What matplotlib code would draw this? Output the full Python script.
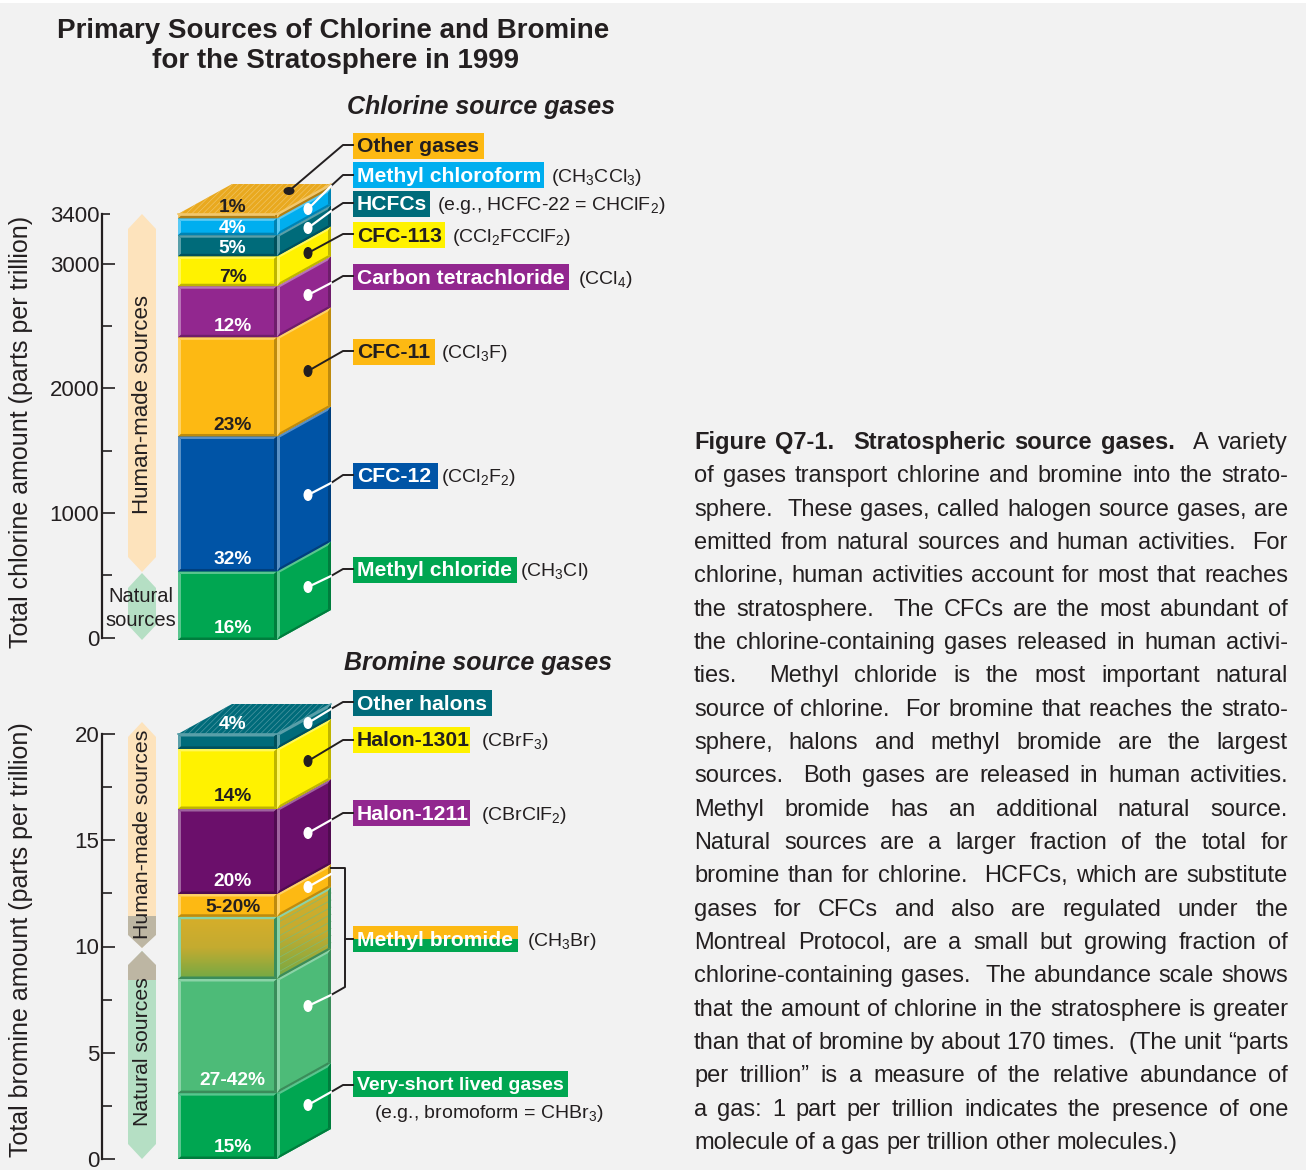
import numpy as np
import matplotlib
matplotlib.use("Agg")
import matplotlib.pyplot as plt
from matplotlib.collections import PolyCollection
from matplotlib.colors import to_rgb, LinearSegmentedColormap
from matplotlib.patches import Ellipse, Polygon, Rectangle

FIG_W, FIG_H = 1309, 1173
INK = "#231F20"

plt.rcParams["font.family"] = ["Liberation Sans", "DejaVu Sans"]
plt.rcParams["mathtext.fontset"] = "custom"
plt.rcParams["mathtext.rm"] = "Liberation Sans"
plt.rcParams["mathtext.default"] = "regular"
plt.rcParams["hatch.linewidth"] = 0.5

chlorine_total = 3400
chlorine_names = ["Methyl chloride", "CFC-12", "CFC-11", "Carbon tetrachloride",
                  "CFC-113", "HCFCs", "Methyl chloroform", "Other gases"]
chlorine_amounts = [550, 1084, 796, 410, 240, 170, 135, 35]
chlorine_base = -20
chlorine_pct_labels = ["16%", "32%", "23%", "12%", "7%", "5%", "4%", "1%"]
chlorine_ticks = [0, 1000, 2000, 3000, 3400]
chlorine_minor = [500, 1500, 2500]

bromine_total = 20
bromine_names = ["Very-short lived gases", "Methyl bromide natural", "Methyl bromide mixed",
                 "Methyl bromide human", "Halon-1211", "Halon-1301", "Other halons"]
bromine_amounts = [3.1, 5.37, 2.93, 1.07, 4.0, 2.83, 0.7]
bromine_base = 0
bromine_pct_labels = ["15%", "27-42%", "", "5-20%", "20%", "14%", "4%"]
bromine_ticks = [0, 5, 10, 15, 20]
bromine_minor = [2.5, 7.5, 12.5, 17.5]

chlorine_colors = ["#00A651", "#0054A6", "#FDB913", "#92278F",
                   "#FFF200", "#006B7A", "#00AEEF", "#E9A91F"]
bromine_colors = ["#00A651", "#4DBB78", "#A9AC3A", "#FDB913",
                  "#6B0F6B", "#FFF200", "#006B7A"]

paragraph = [
    "Figure Q7-1.  Stratospheric source gases.  A variety",
    "of gases transport chlorine and bromine into the strato-",
    "sphere.  These gases, called halogen source gases, are",
    "emitted from natural sources and human activities.  For",
    "chlorine, human activities account for most that reaches",
    "the stratosphere.  The CFCs are the most abundant of",
    "the chlorine-containing gases released in human activi-",
    "ties.  Methyl chloride is the most important natural",
    "source of chlorine.  For bromine that reaches the strato-",
    "sphere, halons and methyl bromide are the largest",
    "sources.  Both gases are released in human activities.",
    "Methyl bromide has an additional natural source.",
    "Natural sources are a larger fraction of the total for",
    "bromine than for chlorine.  HCFCs, which are substitute",
    "gases for CFCs and also are regulated under the",
    "Montreal Protocol, are a small but growing fraction of",
    "chlorine-containing gases.  The abundance scale shows",
    "that the amount of chlorine in the stratosphere is greater",
    "than that of bromine by about 170 times.  (The unit \u201cparts",
    "per trillion\u201d is a measure of the relative abundance of",
    "a gas: 1 part per trillion indicates the presence of one",
    "molecule of a gas per trillion other molecules.)",
]

# name, box right edge, centre y, fill, text colour, formula, formula x
chlorine_boxes = [
    ("Other gases", 484, 146, "#FDB913", INK, "", 0),
    ("Methyl chloroform", 544, 175, "#00AEEF", "white", "(CH$_3$CCl$_3$)", 551),
    ("HCFCs", 430, 204, "#006B7A", "white", "(e.g., HCFC-22 = CHClF$_2$)", 437),
    ("CFC-113", 445, 235, "#FFF200", INK, "(CCl$_2$FCClF$_2$)", 452),
    ("Carbon tetrachloride", 569, 277, "#92278F", "white", "(CCl$_4$)", 578),
    ("CFC-11", 435, 352, "#FDB913", INK, "(CCl$_3$F)", 441),
    ("CFC-12", 438, 476, "#0054A6", "white", "(CCl$_2$F$_2$)", 441),
    ("Methyl chloride", 517, 570, "#00A651", "white", "(CH$_3$Cl)", 520),
]
bromine_boxes = [
    ("Other halons", 492, 703, "#006B7A", "white", "", 0),
    ("Halon-1301", 470, 740, "#FFF200", INK, "(CBrF$_3$)", 481),
    ("Halon-1211", 470, 813, "#92278F", "white", "(CBrClF$_2$)", 481),
    ("Very-short lived gases", 568, 1084, "#00A651", "white", "", 0),
]

# dot x, dot y, dot colour, elbow on the stack edge y, elbow y at the label
leaders = [
    (289, 191, INK, None, 145),
    (308, 209, "white", 186, 175),
    (308, 228, "white", 211, 203),
    (308, 253, INK, None, 234),
    (308, 295, "white", 283, 276),
    (308, 371, INK, None, 351),
    (308, 495, "white", 483, 475),
    (308, 587, "white", 576, 569),
    (308, 723, "white", 709, 702),
    (308, 761, INK, None, 740),
    (308, 833, "white", 820, 813),
    (308, 1105, "white", 1092, 1085),
]


def mix(color, other, amount):
    c = np.array(to_rgb(color))
    return tuple(c + (np.array(to_rgb(other)) - c) * amount)


def bevel(ax, corners, color, b_y, b=3.0):
    """Draw a four sided face with a lighter top/left and darker bottom/right rim."""
    bl, br, tr, tl = [np.array(c, dtype=float) for c in corners]
    u = (br - bl) * (b / (br[0] - bl[0]))
    v = np.array([0, b_y])
    ibl, ibr, itr, itl = bl + u + v, br - u + v, tr - u - v, tl + u - v
    light = mix(color, "white", 0.35)
    dark = mix(color, "black", 0.25)
    polys = [[tl, tr, itr, itl], [bl, tl, itl, ibl], [bl, br, ibr, ibl], [br, tr, itr, ibr]]
    ax.add_collection(PolyCollection(polys, facecolors=[light, light, dark, dark],
                                     edgecolors="none", clip_on=False, zorder=3))


def draw_stack(ax, amounts, base, total, colors, top_hatch, px, mixed=None):
    amounts = np.array(amounts, dtype=float)
    bottoms = base + np.concatenate([[0], np.cumsum(amounts)[:-1]])
    x0, x1, x2 = 178, 277, 331
    depth = 30 / px
    ax.bar(x0, amounts, width=x1 - x0, bottom=bottoms, align="edge", color=colors,
           clip_on=False, zorder=2)
    for i, (lo, amount, color) in enumerate(zip(bottoms, amounts, colors)):
        hi = lo + amount
        side = [(x1, lo), (x2, lo + depth), (x2, hi + depth), (x1, hi)]
        ax.add_patch(Polygon(side, fc=color, ec="none", clip_on=False, zorder=2))
        rim = "#4DBB78" if i == mixed else color
        if i == mixed:
            ramp = LinearSegmentedColormap.from_list("mb", ["#D6AE2A", "#C4AB30", "#73A944"])
            grad = np.linspace(0, 1, 64)[:, None]
            ax.imshow(grad, cmap=ramp, extent=(x0, x1, lo, hi), origin="upper", aspect="auto",
                      zorder=2.5, clip_on=False)
            im = ax.imshow(grad, cmap=ramp, extent=(x1, x2, lo, hi + depth), origin="upper",
                           aspect="auto", zorder=2.5)
            im.set_clip_path(Polygon(side, transform=ax.transData))
            for f in np.linspace(0.1, 0.9, 8):
                y = lo + f * amount
                ax.plot([x1, x2], [y, y + depth], color="#7FBB74", lw=0.5, zorder=2.7, clip_on=False)
        bevel(ax, [(x0, lo), (x1, lo), (x1, hi), (x0, hi)], rim, 2.5 / px)
        bevel(ax, side, rim, 2.5 / px)
    top = bottoms[-1] + amounts[-1]
    ax.add_patch(Polygon([(x0, top), (x1, top), (x2, top + depth), (x0 + 54, top + depth)],
                         fc=colors[-1], ec=mix(colors[-1], "white", 0.3), lw=0, hatch=top_hatch,
                         clip_on=False, zorder=2.8))
    ax.plot([x0, x1, x2], [top, top, top + depth], color=mix(colors[-1], "white", 0.35),
            lw=1.2, zorder=3, clip_on=False)
    ax.set_xlim(102, 340)
    ax.set_ylim(0, total)


def style_axis(ax, ticks, minor, label, label_y, top_px, bottom_px):
    ax.patch.set_visible(False)
    for name in ("top", "right", "bottom"):
        ax.spines[name].set_visible(False)
    ax.spines["left"].set_linewidth(1.6)
    ax.spines["left"].set_color(INK)
    ax.set_xticks([])
    ax.set_yticks(ticks)
    ax.set_yticks(minor, minor=True)
    ax.tick_params(axis="y", which="major", direction="in", length=9.5, width=1.2,
                   color=INK, labelcolor=INK, labelsize=16, pad=2)
    ax.tick_params(axis="y", which="minor", direction="in", length=7.5, width=1.2, color=INK)
    ax.set_ylabel(label, fontsize=18, color=INK)
    ax.yaxis.set_label_coords((33 - 102) / 238, (bottom_px - label_y) / (bottom_px - top_px))


def px_axes(top, bottom):
    return fig.add_axes([102 / FIG_W, 1 - bottom / FIG_H, 238 / FIG_W, (bottom - top) / FIG_H])


fig = plt.figure(figsize=(FIG_W / 100, FIG_H / 100), dpi=100, facecolor="white")
fig.add_artist(Rectangle((0, 3 / FIG_H), 1306 / FIG_W, 1167 / FIG_H, transform=fig.transFigure,
                         fc="#F2F2F2", ec="none", zorder=-1))

ax_cl = px_axes(214, 637.5)
draw_stack(ax_cl, chlorine_amounts, chlorine_base, chlorine_total, chlorine_colors, "//////", 423.5 / 3400)
style_axis(ax_cl, chlorine_ticks, chlorine_minor, "Total chlorine amount (parts per trillion)", 432, 214, 637.5)
ax_cl.yaxis.get_major_ticks()[-1].tick1line.set_markersize(6)

ax_br = px_axes(734, 1159)
draw_stack(ax_br, bromine_amounts, bromine_base, bromine_total, bromine_colors, "//////", 425 / 20, mixed=2)
style_axis(ax_br, bromine_ticks, bromine_minor, "Total bromine amount (parts per trillion)", 940, 734, 1159)

# overlay in pixel coordinates for labels and leaders
ov = fig.add_axes([0, 0, 1, 1], zorder=5)
ov.set_xlim(0, FIG_W)
ov.set_ylim(FIG_H, 0)
ov.axis("off")

ov.text(333, 30.5, "Primary Sources of Chlorine and Bromine", fontsize=20, fontweight="bold",
        ha="center", va="center", color=INK)
ov.text(336, 61.5, "for the Stratosphere in 1999", fontsize=20, fontweight="bold",
        ha="center", va="center", color=INK)
ov.text(481, 107, "Chlorine source gases", fontsize=18, fontweight="bold", style="italic",
        ha="center", va="center", color=INK)
ov.text(478, 663, "Bromine source gases", fontsize=18, fontweight="bold", style="italic",
        ha="center", va="center", color=INK)

# source arrows
ORANGE_PALE, GREEN_PALE, GREY = "#FDE3BC", "#B5DFC4", "#BDB6A3"


def hexagon(top, bottom, color, z=1):
    ov.add_patch(Polygon([(128, top + 15), (142, top), (156, top + 15),
                          (156, bottom - 15), (142, bottom), (128, bottom - 15)],
                         fc=color, ec="none", zorder=z))


hexagon(214, 572, ORANGE_PALE)
hexagon(573, 640, GREEN_PALE)
hexagon(722, 948, ORANGE_PALE)
ov.add_patch(Polygon([(128, 916), (156, 916), (156, 935), (142, 948), (128, 935)], fc=GREY, ec="none", zorder=1.5))
hexagon(951, 1159, GREEN_PALE)
ov.add_patch(Polygon([(128, 980), (128, 965), (142, 951), (156, 965), (156, 980)], fc=GREY, ec="none", zorder=1.5))
ov.text(143, 405, "Human-made sources", fontsize=16, rotation=90, ha="center", va="center", color=INK)
ov.text(143, 834, "Human-made sources", fontsize=15.3, rotation=90, ha="center", va="center", color=INK)
ov.text(143, 1052, "Natural sources", fontsize=15.3, rotation=90, ha="center", va="center", color=INK)
ov.text(141, 597, "Natural", fontsize=14.5, ha="center", va="center", color=INK)
ov.text(141, 620, "sources", fontsize=14.5, ha="center", va="center", color=INK)

# percent labels
chlorine_label_y = [628.5, 559.5, 425.5, 326.5, 277.5, 248.5, 228.5, 207.5]
bromine_label_y = [1147.5, 1080.5, 0, 907.5, 881.5, 796.5, 724.5]
for labels, ys, colors in (
    (chlorine_pct_labels, chlorine_label_y, ["white", "white", INK, "white", INK, "white", "white", INK]),
    (bromine_pct_labels, bromine_label_y, ["white", "white", INK, INK, "white", INK, "white"]),
):
    for text, y, c in zip(labels, ys, colors):
        ov.text(232.5, y, text, fontsize=13.8, fontweight="bold", ha="center", va="center", color=c)

# legend boxes
for name, right, y, fill, tc, formula, fx in chlorine_boxes + bromine_boxes:
    ov.add_patch(Rectangle((353, y - 13), right - 353, 26, fc=fill, ec="none", zorder=2))
    size = 14 if name.startswith("Very") else 15.2
    ov.text(357, y + 1, name, fontsize=size, fontweight="bold", va="center", color=tc, zorder=3)
    if formula:
        ov.text(fx, y + 2, formula, fontsize=14, va="center", color=INK)

ov.add_patch(Rectangle((353, 926), 165, 13, fc="#FDB913", ec="none", zorder=2))
ov.add_patch(Rectangle((353, 939), 165, 13, fc="#00A651", ec="none", zorder=2))
ov.text(357, 940, "Methyl bromide", fontsize=15.2, fontweight="bold", va="center", color="white", zorder=3)
ov.text(527, 941, "(CH$_3$Br)", fontsize=14, va="center", color=INK)
ov.text(374, 1113, "(e.g., bromoform = CHBr$_3$)", fontsize=14, va="center", color=INK)

# leaders
for dx, dy, dc, edge_y, label_y in leaders:
    if edge_y is None:
        ov.plot([dx, 343, 353], [dy, label_y, label_y], color=INK, lw=1.4, zorder=4, solid_joinstyle="round")
    else:
        ov.plot([331, 343, 353], [edge_y, label_y, label_y], color=INK, lw=1.4, zorder=4)
        ov.plot([dx, 331], [dy, edge_y], color=dc, lw=1.6, zorder=4)
    ov.add_patch(Ellipse((dx, dy), 9 if dx == 308 else 11, 12 if dx == 308 else 8, fc=dc, ec="none", zorder=4.5))

# methyl bromide bracket
ov.plot([331, 345, 345, 331], [868, 868, 987, 995], color=INK, lw=1.4, zorder=4)
ov.plot([345, 353], [939, 939], color=INK, lw=1.4, zorder=4)
for dy, ey in ((887, 874), (1006, 995)):
    ov.plot([308, 331], [dy, ey], color="white", lw=1.6, zorder=4)
    ov.add_patch(Ellipse((308, dy), 9, 12, fc="white", ec="none", zorder=4.5))

# justified paragraph, one word at a time
LEFT, RIGHT, BASE, STEP, SIZE = 694, 1288, 449, 33.33, 17
renderer = fig.canvas.get_renderer()
for row, line in enumerate(paragraph):
    tokens = line.split(" ")
    words = []
    widths = []
    gaps = []
    pending = 0
    for t_i, token in enumerate(tokens):
        if not token:
            pending += 1
            continue
        weight = "bold" if row == 0 and t_i < 7 else "normal"
        t = ov.text(0, BASE + STEP * row, token, fontsize=SIZE, fontweight=weight, color=INK, va="baseline")
        words.append(t)
        widths.append(t.get_window_extent(renderer).width)
        gaps.append(pending + (1 if words[:-1] else 0))
        pending = 0
    natural = SIZE * 100 / 72 * 0.278
    if row == len(paragraph) - 1:
        unit = natural
    else:
        unit = (RIGHT - LEFT - sum(widths)) / sum(gaps)
    x = LEFT
    for t, w, g in zip(words, widths, gaps):
        x += g * unit
        t.set_x(x)
        x += w

fig.savefig("out.png", dpi=100, facecolor=fig.get_facecolor())
